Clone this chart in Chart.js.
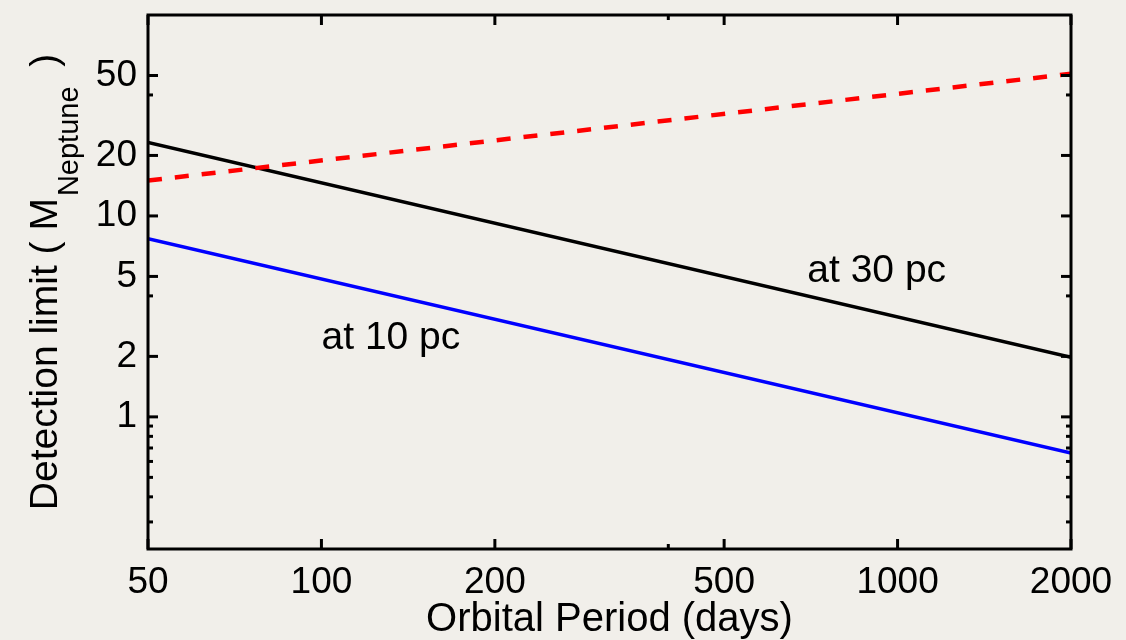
<!DOCTYPE html>
<html lang="en">
<head>
  <meta charset="UTF-8">
  <title>Detection limit vs orbital period</title>
  <script src="https://cdn.jsdelivr.net/npm/chart.js"></script>
  <style>
    html, body {
      margin: 0;
      padding: 0;
      background-color: #f1efea;
    }
    .wrap {
      width: 1126px;
      height: 640px;
    }
  </style>
</head>
<body>
  <div class="wrap">
    <canvas id="limitChart" width="1126" height="640"></canvas>
  </div>

  <script>
    // end points of each curve (straight lines on log-log axes)
    const periods = [50, 2000];
    const limit30pc = [23.2, 1.98];
    const limit10pc = [7.7, 0.66];
    const limitRed = [15, 51];

    const xTickValues = [50, 100, 200, 500, 1000, 2000];
    const xMinorTicks = [400];
    const yTickValues = [1, 2, 5, 10, 20, 50];
    const yMinorTicks = [0.3, 0.4, 0.5, 0.6, 0.7, 0.8, 0.9, 4, 40];

    const noteTexts = ['at 30 pc', 'at 10 pc'];
    const notePeriods = [920, 132];
    const noteLimits = [5.3, 2.45];

    const FONT = '"Liberation Sans", Arial, Helvetica, sans-serif';

    function toPoints(ys) {
      return periods.map((p, i) => ({ x: p, y: ys[i] }));
    }

    // frame, inward ticks, notes and axis titles
    const decorations = {
      id: 'decorations',
      afterDraw(chart) {
        const ctx = chart.ctx;
        const a = chart.chartArea;
        const xs = chart.scales.x;
        const ys = chart.scales.y;
        ctx.save();

        ctx.strokeStyle = '#000';
        ctx.lineWidth = 3;
        ctx.lineCap = 'butt';
        const tick = (x1, y1, x2, y2) => {
          ctx.beginPath();
          ctx.moveTo(x1, y1);
          ctx.lineTo(x2, y2);
          ctx.stroke();
        };
        xTickValues.forEach(v => {
          const px = xs.getPixelForValue(v);
          tick(px, a.bottom, px, a.bottom - 10);
          tick(px, a.top, px, a.top + 10);
        });
        xMinorTicks.forEach(v => {
          const px = xs.getPixelForValue(v);
          tick(px, a.bottom, px, a.bottom - 5);
          tick(px, a.top, px, a.top + 5);
        });
        yTickValues.forEach(v => {
          const py = ys.getPixelForValue(v);
          tick(a.left, py, a.left + 10, py);
          tick(a.right, py, a.right - 10, py);
        });
        yMinorTicks.forEach(v => {
          const py = ys.getPixelForValue(v);
          tick(a.left, py, a.left + 5, py);
          tick(a.right, py, a.right - 5, py);
        });

        ctx.strokeRect(a.left, a.top, a.right - a.left, a.bottom - a.top);

        // curve labels
        ctx.fillStyle = '#000';
        ctx.font = '39px ' + FONT;
        ctx.textAlign = 'center';
        ctx.textBaseline = 'middle';
        noteTexts.forEach((t, i) => {
          ctx.fillText(t, xs.getPixelForValue(notePeriods[i]), ys.getPixelForValue(noteLimits[i]));
        });

        // x title
        ctx.font = '40px ' + FONT;
        ctx.textBaseline = 'alphabetic';
        ctx.fillText('Orbital Period (days)', (a.left + a.right) / 2, 631);

        // y title with subscript, rotated
        const mainFont = '39px ' + FONT;
        const subFont = '29px ' + FONT;
        const part1 = 'Detection limit ( M';
        const part2 = 'Neptune';
        const part3 = '  )';
        ctx.font = mainFont;
        const w1 = ctx.measureText(part1).width;
        const w3 = ctx.measureText(part3).width;
        ctx.font = subFont;
        const w2 = ctx.measureText(part2).width;
        const total = w1 + w2 + w3;
        ctx.translate(57, (a.top + a.bottom) / 2);
        ctx.rotate(-Math.PI / 2);
        ctx.textAlign = 'left';
        const x0 = -total / 2;
        ctx.font = mainFont;
        ctx.fillText(part1, x0, 0);
        ctx.font = subFont;
        ctx.fillText(part2, x0 + w1 + 2, 21);
        ctx.font = mainFont;
        ctx.fillText(part3, x0 + w1 + w2, 0);

        ctx.restore();
      }
    };

    const ctx = document.getElementById('limitChart').getContext('2d');
    const chart = new Chart(ctx, {
      type: 'line',
      data: {
        datasets: [
          {
            data: toPoints(limitRed),
            borderColor: '#ff0000',
            borderWidth: 4.5,
            borderDash: [14, 13]
          },
          {
            data: toPoints(limit30pc),
            borderColor: '#000000',
            borderWidth: 3.5
          },
          {
            data: toPoints(limit10pc),
            borderColor: '#0000ff',
            borderWidth: 3.5
          }
        ]
      },
      options: {
        responsive: false,
        animation: false,
        events: [],
        layout: {
          padding: { top: 15, right: 55, left: 0, bottom: 0 }
        },
        elements: {
          point: { radius: 0 },
          line: { tension: 0 }
        },
        scales: {
          x: {
            type: 'logarithmic',
            position: 'bottom',
            min: 50,
            max: 2000,
            grid: { display: false, drawTicks: false },
            border: { display: false },
            afterBuildTicks: s => { s.ticks = xTickValues.map(v => ({ value: v })); },
            afterFit: s => { s.height = 91; s.paddingLeft = 0; s.paddingRight = 0; },
            ticks: {
              autoSkip: false,
              maxRotation: 0,
              padding: 12,
              color: '#000',
              font: { family: FONT, size: 37 },
              callback: v => String(v)
            }
          },
          y: {
            type: 'logarithmic',
            position: 'left',
            min: 0.22,
            max: 100,
            grid: { display: false, drawTicks: false },
            border: { display: false },
            afterBuildTicks: s => { s.ticks = yTickValues.map(v => ({ value: v })); },
            afterFit: s => { s.width = 148; s.paddingTop = 0; s.paddingBottom = 0; },
            ticks: {
              autoSkip: false,
              padding: 11,
              color: '#000',
              font: { family: FONT, size: 37 },
              callback: v => String(v)
            }
          }
        },
        plugins: {
          legend: { display: false },
          tooltip: { enabled: false },
          title: { display: false }
        }
      },
      plugins: [decorations]
    });
  </script>
</body>
</html>
